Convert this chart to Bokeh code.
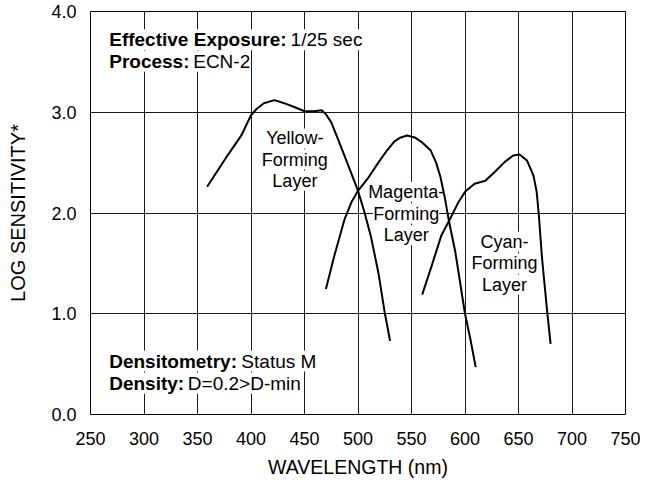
from bokeh.plotting import figure
from bokeh.models import Range1d, FixedTicker, PrintfTickFormatter, ColumnDataSource
from bokeh.core.properties import value
from bokeh.embed import file_html
from bokeh.resources import INLINE

# ---- data ----
yellow_nm = [359, 378, 391, 400, 405, 412, 422, 431, 441, 450, 459, 466, 470, 475, 481, 491, 500, 506, 512, 519, 525, 530]
yellow_ls = [2.26, 2.57, 2.77, 2.97, 3.03, 3.09, 3.12, 3.09, 3.05, 3.01, 3.01, 3.02, 2.98, 2.90, 2.74, 2.47, 2.22, 2.01, 1.77, 1.41, 1.01, 0.73]

magenta_nm = [470, 478, 487.5, 494, 500, 509, 519, 527, 534, 540, 546, 553, 560, 568, 573, 577, 581, 585, 591, 600, 605, 610]
magenta_ls = [1.245, 1.58, 1.94, 2.11, 2.22, 2.34, 2.50, 2.62, 2.71, 2.75, 2.77, 2.75, 2.70, 2.62, 2.50, 2.36, 2.16, 1.92, 1.61, 1.0, 0.75, 0.47]

cyan_nm = [560, 569, 578, 586, 594, 600, 609, 619, 628, 637.5, 645, 651, 658, 664, 667, 669, 672, 677, 680]
cyan_ls = [1.19, 1.48, 1.78, 1.94, 2.11, 2.21, 2.29, 2.32, 2.41, 2.51, 2.57, 2.58, 2.52, 2.37, 2.21, 1.98, 1.55, 1.0, 0.70]

x_ticks = [250, 300, 350, 400, 450, 500, 550, 600, 650, 700, 750]
y_ticks = [0.0, 1.0, 2.0, 3.0, 4.0]

FONT = "Liberation Sans"

p = figure(width=640, height=483, output_backend="svg", toolbar_location=None,
           x_range=Range1d(250, 750), y_range=Range1d(0, 4),
           min_border_left=90, min_border_right=15, min_border_top=11, min_border_bottom=69)

p.outline_line_color = "black"
p.outline_line_width = 1
p.background_fill_color = "white"
p.border_fill_color = "white"

p.xaxis.ticker = FixedTicker(ticks=x_ticks)
p.yaxis.ticker = FixedTicker(ticks=y_ticks)
p.yaxis.formatter = PrintfTickFormatter(format="%.1f")
for ax in (p.xaxis, p.yaxis):
    ax.axis_line_color = None
    ax.major_tick_line_color = None
    ax.minor_tick_line_color = None
    ax.major_tick_out = 0
    ax.major_tick_in = 0
    ax.major_label_text_font = FONT
    ax.major_label_text_font_size = "18px"
    ax.major_label_text_color = "black"
    ax.axis_label_text_font = FONT
    ax.axis_label_text_font_style = "normal"
    ax.axis_label_text_color = "black"
p.xaxis.major_label_standoff = 17
p.yaxis.major_label_standoff = 14
p.xaxis.axis_label = "WAVELENGTH (nm)"
p.xaxis.axis_label_text_font_size = "19.5px"
p.xaxis.axis_label_standoff = 8
p.yaxis.axis_label = "LOG SENSITIVITY*"
p.yaxis.axis_label_text_font_size = "20px"
p.yaxis.axis_label_standoff = 19

p.grid.grid_line_color = "black"
p.grid.grid_line_width = 1
p.grid.grid_line_alpha = 0.9

# ---- text blocks (white background hides the grid) ----
notes = ColumnDataSource(dict(
    x=[267.5, 437, 267.5, 346, 267.5, 391, 267.5, 341],
    y=[3.72, 3.72, 3.505, 3.505, 0.53, 0.53, 0.31, 0.31],
    text=["Effective Exposure:", "1/25 sec", "Process:", "ECN-2",
          "Densitometry:", "Status M", "Density:", "D=0.2>D-min"],
    style=["bold", "normal", "bold", "normal", "bold", "normal", "bold", "normal"],
))
p.text(x="x", y="y", text="text", source=notes, text_font=value(FONT),
       text_font_size="19px", text_font_style="style", text_color="black",
       text_baseline="alphabetic", text_align="left",
       background_fill_color="white", padding=0)

layer_labels = ColumnDataSource(dict(
    x=[441, 441, 441, 545, 545, 545, 637, 637, 637],
    y=[2.74, 2.53, 2.32, 2.21, 1.995, 1.78, 1.715, 1.50, 1.29],
    text=["Yellow-", "Forming", "Layer", "Magenta-", "Forming", "Layer", "Cyan-", "Forming", "Layer"],
))
p.text(x="x", y="y", text="text", source=layer_labels, text_font=value(FONT),
       text_font_size="18px", text_color="black", text_baseline="alphabetic",
       text_align="center", background_fill_color="white", padding=0)

# ---- curves ----
for xs, ys in ((yellow_nm, yellow_ls), (magenta_nm, magenta_ls), (cyan_nm, cyan_ls)):
    p.line(xs, ys, line_color="black", line_width=2, line_join="round")

open("out.html", "w").write(file_html(p, INLINE))
